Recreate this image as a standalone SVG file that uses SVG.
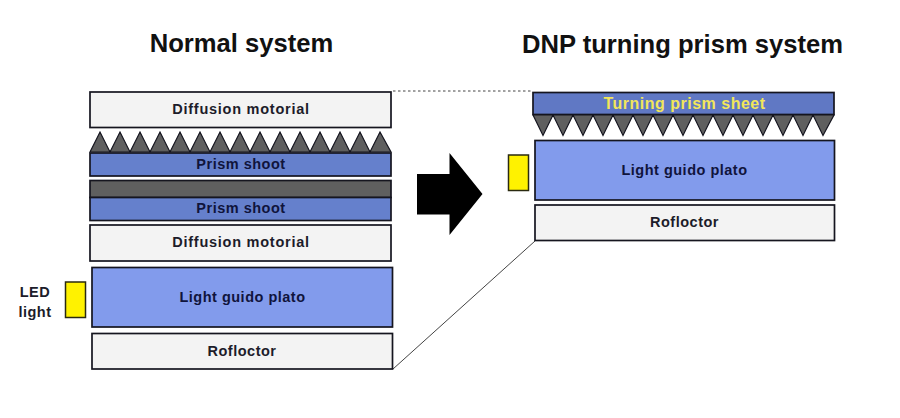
<svg xmlns="http://www.w3.org/2000/svg" width="900" height="418" viewBox="0 0 900 418">
<defs>
<style>
text{font-family:"Liberation Sans",Arial,sans-serif;font-weight:700;text-anchor:middle}
.title{font-size:25.600px;fill:#111}
.lab{font-size:14.500px;fill:#1c1c2a;letter-spacing:.5px}
.wide{letter-spacing:.75px}
.navy{fill:#10143c}
.box{stroke:#15151f;stroke-width:1.700}
.white{fill:#f3f3f3}
.sheet{fill:#6580cc}
.guide{fill:#829bec}
.led{fill:#fff200;stroke:#2a2a10;stroke-width:1.500}
.prism{fill:#5f5f5f;stroke:#15151f;stroke-width:1.200}
.conn{fill:none;stroke:#444;stroke-width:1}
</style>
</defs>
<rect width="900" height="418" fill="#fff"/>
<text class="title" x="241.500" y="52">Normal system</text>
<text class="title" x="682.500" y="53">DNP turning prism system</text>

<g id="connectors">
<path class="conn" d="M393 91H533" stroke-dasharray="2.500 2.500"/>
<path class="conn" d="M393 369L535 241"/>
</g>

<g id="left-diffusion-top"><rect class="box white" x="90" y="92" width="301" height="35.500"/><text class="lab wide" x="241" y="114">Diffusion motorial</text></g>
<g id="left-prism-teeth"><path class="prism" d="M90 152L100 132L110 152L120 132L130 152L140 132L150 152L160 132L170 152L180 132L190 152L200 132L210 152L220 132L230 152L240 132L250 152L260 132L270 152L280 132L290 152L300 132L310 152L320 132L330 152L340 132L350 152L360 132L370 152L380 132L391 152Z"/></g>
<g id="left-prism-sheet-1"><rect class="box sheet" x="90" y="153" width="301" height="23"/><text class="lab navy" x="241" y="168.500">Prism shoot</text></g>
<g id="left-grey-layer"><rect class="box" fill="#5f5f5f" x="90" y="180.500" width="301" height="17"/></g>
<g id="left-prism-sheet-2"><rect class="box sheet" x="90" y="197.500" width="301" height="23"/><text class="lab navy" x="241" y="213">Prism shoot</text></g>
<g id="left-diffusion-bottom"><rect class="box white" x="90" y="225" width="301" height="36"/><text class="lab wide" x="241" y="247">Diffusion motorial</text></g>
<g id="left-light-guide"><rect class="box guide" x="92" y="267.500" width="300.500" height="59.500"/><text class="lab navy" x="242.500" y="302">Light guido plato</text></g>
<g id="left-reflector"><rect class="box white" x="92" y="333.500" width="300.500" height="35.500"/><text class="lab" x="242" y="356">Rofloctor</text></g>
<g id="left-led"><rect class="led" x="65.500" y="282" width="20" height="35.500"/></g>
<g id="left-led-label"><text class="lab" x="35" y="297">LED</text><text class="lab" x="35" y="317">light</text></g>

<g id="arrow"><path fill="#000" d="M417 174H449.500V153L482.500 194L449.500 235V214.500H417Z"/></g>

<g id="right-prism-sheet"><rect class="box" fill="#6078c4" x="533" y="92.500" width="301" height="22"/><text class="lab" style="fill:#f2e65a;font-size:16px" x="684.500" y="108.500">Turning prism sheet</text></g>
<g id="right-prism-teeth"><path class="prism" d="M533 115L543 135.500L553 115L563 135.500L573 115L583 135.500L593 115L603 135.500L613 115L623 135.500L633 115L643 135.500L653 115L663 135.500L673 115L683 135.500L693 115L703 135.500L713 115L723 135.500L733 115L743 135.500L753 115L763 135.500L773 115L783 135.500L793 115L803 135.500L813 115L823 135.500L834 115Z"/></g>
<g id="right-light-guide"><rect class="box guide" x="535" y="140.500" width="299.500" height="59.500"/><text class="lab navy" x="684.500" y="175">Light guido plato</text></g>
<g id="right-reflector"><rect class="box white" x="535" y="205" width="299.500" height="35.500"/><text class="lab" x="684.500" y="227">Rofloctor</text></g>
<g id="right-led"><rect class="led" x="508.500" y="155" width="20" height="35.500"/></g>
</svg>
